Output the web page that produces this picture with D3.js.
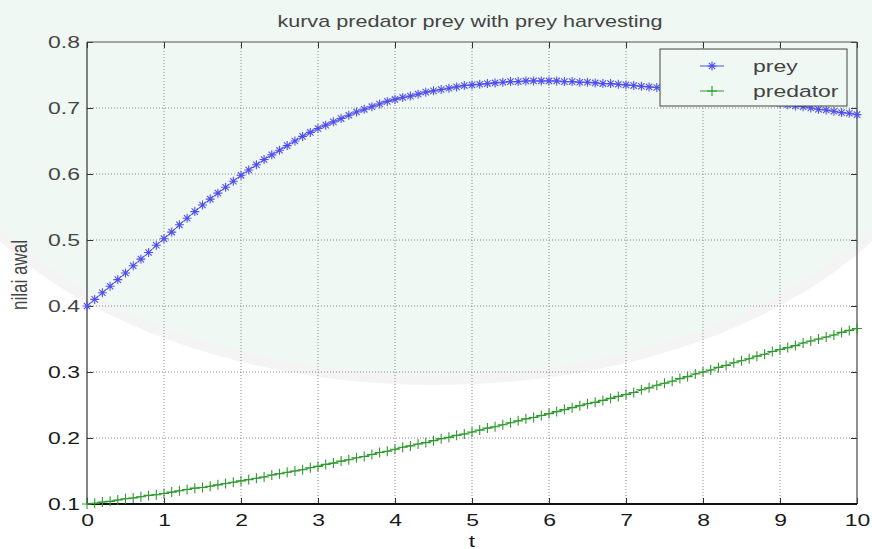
<!DOCTYPE html>
<html>
<head>
<meta charset="utf-8">
<script src="https://cdn.jsdelivr.net/npm/d3@7"></script>
<style>
  html, body { margin: 0; padding: 0; background: #ffffff; }
  svg { display: block; }
  text { font-family: "Liberation Sans", Arial, Helvetica, sans-serif; }
</style>
</head>
<body>
<svg id="chart" width="872" height="549"></svg>
<script>
// ---------- data ----------
const titleText = "kurva predator prey with prey harvesting";
const xLabel = "t";
const yLabel = "nilai awal";
const seriesNames = ["prey", "predator"];
const xTicks = [0, 1, 2, 3, 4, 5, 6, 7, 8, 9, 10];
const yTicks = [0.1, 0.2, 0.3, 0.4, 0.5, 0.6, 0.7, 0.8];
const tValues = [
  0.0,0.1,0.2,0.3,0.4,0.5,0.6,0.7,0.8,0.9,
  1.0,1.1,1.2,1.3,1.4,1.5,1.6,1.7,1.8,1.9,
  2.0,2.1,2.2,2.3,2.4,2.5,2.6,2.7,2.8,2.9,
  3.0,3.1,3.2,3.3,3.4,3.5,3.6,3.7,3.8,3.9,
  4.0,4.1,4.2,4.3,4.4,4.5,4.6,4.7,4.8,4.9,
  5.0,5.1,5.2,5.3,5.4,5.5,5.6,5.7,5.8,5.9,
  6.0,6.1,6.2,6.3,6.4,6.5,6.6,6.7,6.8,6.9,
  7.0,7.1,7.2,7.3,7.4,7.5,7.6,7.7,7.8,7.9,
  8.0,8.1,8.2,8.3,8.4,8.5,8.6,8.7,8.8,8.9,
  9.0,9.1,9.2,9.3,9.4,9.5,9.6,9.7,9.8,9.9,
  10.0
];
const preyValues = [
  0.400,0.410,0.420,0.430,0.440,0.450,0.461,0.471,0.481,0.492,
  0.502,0.512,0.523,0.533,0.543,0.553,0.562,0.571,0.580,0.589,
  0.598,0.606,0.614,0.622,0.629,0.636,0.643,0.650,0.657,0.663,
  0.669,0.674,0.679,0.684,0.689,0.694,0.698,0.702,0.706,0.710,
  0.713,0.716,0.718,0.721,0.724,0.726,0.728,0.730,0.732,0.734,
  0.735,0.736,0.737,0.738,0.739,0.740,0.740,0.741,0.741,0.741,
  0.741,0.741,0.740,0.740,0.739,0.739,0.738,0.737,0.737,0.736,
  0.735,0.734,0.733,0.732,0.731,0.730,0.729,0.728,0.727,0.726,
  0.725,0.723,0.722,0.720,0.719,0.717,0.715,0.713,0.711,0.709,
  0.707,0.705,0.703,0.702,0.700,0.698,0.697,0.695,0.693,0.692,
  0.690
];
const predatorValues = [
  0.100,0.101,0.103,0.104,0.106,0.108,0.109,0.111,0.113,0.114,
  0.116,0.118,0.120,0.122,0.124,0.125,0.127,0.129,0.131,0.133,
  0.135,0.137,0.139,0.141,0.144,0.146,0.148,0.150,0.152,0.155,
  0.157,0.160,0.162,0.165,0.167,0.170,0.172,0.175,0.178,0.180,
  0.183,0.186,0.188,0.191,0.193,0.196,0.199,0.201,0.204,0.206,
  0.209,0.212,0.215,0.217,0.220,0.223,0.226,0.229,0.231,0.234,
  0.237,0.240,0.243,0.246,0.249,0.252,0.254,0.257,0.260,0.263,
  0.266,0.269,0.273,0.276,0.280,0.283,0.286,0.290,0.293,0.297,
  0.300,0.303,0.307,0.310,0.314,0.317,0.320,0.324,0.327,0.331,
  0.334,0.337,0.340,0.344,0.347,0.350,0.353,0.356,0.360,0.363,
  0.366
];

// ---------- layout ----------
const W = 872, H = 549;
const M = { left: 87, right: 15, top: 42, bottom: 45 };
const SX = 1.35; // horizontal stretch of text in the reference
const preyColor = "#4f4ff0";
const predColor = "#2e9a2e";

const svg = d3.select("#chart");

// faint background watermark tint
svg.append("ellipse")
  .attr("cx", 436).attr("cy", 60).attr("rx", 520).attr("ry", 320)
  .attr("fill", "#f0f8f3");
svg.append("ellipse")
  .attr("cx", 436).attr("cy", 60).attr("rx", 520).attr("ry", 320)
  .attr("fill", "none").attr("stroke", "#f4f4f4").attr("stroke-width", 10);

const x = d3.scaleLinear().domain([0, 10]).range([M.left, W - M.right]);
const y = d3.scaleLinear().domain([0.1, 0.8]).range([H - M.bottom - 0, M.top]);

const x0 = x.range()[0], x1 = x.range()[1];
const y0 = y.range()[0], y1 = y.range()[1];

// grid
const grid = svg.append("g").attr("stroke", "#8a8a8a").attr("stroke-width", 1)
  .attr("stroke-dasharray", "1,2").attr("fill", "none");
xTicks.slice(1, -1).forEach(v => {
  grid.append("line").attr("x1", x(v)).attr("x2", x(v)).attr("y1", y1).attr("y2", y0);
});
yTicks.slice(1, -1).forEach(v => {
  grid.append("line").attr("x1", x0).attr("x2", x1).attr("y1", y(v)).attr("y2", y(v));
});

// axes with inward ticks
function styleAxis(g) {
  g.select(".domain").remove();
  g.selectAll(".tick line").attr("stroke", "#333");
}
const tickLen = 6;
svg.append("g").attr("transform", `translate(0,${y0})`)
  .call(d3.axisTop(x).tickValues(xTicks).tickSize(tickLen).tickFormat(""))
  .call(styleAxis);
svg.append("g").attr("transform", `translate(0,${y1})`)
  .call(d3.axisBottom(x).tickValues(xTicks).tickSize(tickLen).tickFormat(""))
  .call(styleAxis);
svg.append("g").attr("transform", `translate(${x0},0)`)
  .call(d3.axisRight(y).tickValues(yTicks).tickSize(tickLen).tickFormat(""))
  .call(styleAxis);
svg.append("g").attr("transform", `translate(${x1},0)`)
  .call(d3.axisLeft(y).tickValues(yTicks).tickSize(tickLen).tickFormat(""))
  .call(styleAxis);

// tick labels via axes
const xLab = svg.append("g").attr("transform", `translate(0,${y0})`)
  .call(d3.axisBottom(x).tickValues(xTicks).tickSize(0).tickFormat(d3.format("d")));
xLab.select(".domain").remove();
xLab.selectAll("text")
  .attr("y", null).attr("dy", null)
  .attr("transform", `translate(0,22) scale(${SX},1)`)
  .attr("font-size", 17).attr("fill", "#1a1a1a")
  .attr("font-family", "'Liberation Sans', Arial, sans-serif");

const yLab = svg.append("g").attr("transform", `translate(${x0},0)`)
  .call(d3.axisLeft(y).tickValues(yTicks).tickSize(0).tickFormat(d3.format(".1f")));
yLab.select(".domain").remove();
yLab.selectAll("text")
  .attr("x", null).attr("dy", "0.35em")
  .attr("transform", `translate(-7,0) scale(${SX},1)`)
  .attr("font-size", 17)
  .attr("fill", d => d >= 0.35 ? "#454545" : "#1a1a1a")
  .attr("font-family", "'Liberation Sans', Arial, sans-serif");

// box
svg.append("line").attr("x1", x0).attr("x2", x1).attr("y1", y1).attr("y2", y1).attr("stroke", "#555").attr("stroke-width", 1);
svg.append("line").attr("x1", x1).attr("x2", x1).attr("y1", y1).attr("y2", y0).attr("stroke", "#444").attr("stroke-width", 1.2);
svg.append("line").attr("x1", x0).attr("x2", x0).attr("y1", y1).attr("y2", y0).attr("stroke", "#333").attr("stroke-width", 1.2);
svg.append("line").attr("x1", x0).attr("x2", x1).attr("y1", y0).attr("y2", y0).attr("stroke", "#111").attr("stroke-width", 2);

// series
const preyData = tValues.map((t, i) => ({ t, v: preyValues[i] }));
const predData = tValues.map((t, i) => ({ t, v: predatorValues[i] }));
const line = d3.line().x(d => x(d.t)).y(d => y(d.v));

const starPath = (s) => {
  const d = s * 0.707;
  return `M${-s},0L${s},0M0,${-s}L0,${s}M${-d},${-d}L${d},${d}M${-d},${d}L${d},${-d}`;
};
const plusPath = (s) => `M${-s},0L${s},0M0,${-s}L0,${s}`;

function drawSeries(data, color, pathStr) {
  const g = svg.append("g");
  g.append("path").datum(data).attr("d", line)
    .attr("fill", "none").attr("stroke", color).attr("stroke-width", 1);
  g.selectAll("path.m").data(data).join("path").attr("class", "m")
    .attr("transform", d => `translate(${x(d.t)},${y(d.v)})`)
    .attr("d", pathStr)
    .attr("fill", "none").attr("stroke", color).attr("stroke-width", 1.1);
}
drawSeries(preyData, preyColor, starPath(4.5));
drawSeries(predData, predColor, plusPath(5));

// title
svg.append("text")
  .attr("transform", `translate(${(x0 + x1) / 2 - 2},27) scale(${SX},1)`)
  .attr("text-anchor", "middle").attr("font-size", 16).attr("fill", "#444")
  .text(titleText);

// x label
svg.append("text")
  .attr("transform", `translate(${x(5)},547) scale(${SX},1)`)
  .attr("text-anchor", "middle").attr("font-size", 17).attr("fill", "#1a1a1a")
  .text(xLabel);

// y label
svg.append("text")
  .attr("transform", `translate(27,275) scale(${SX},1) rotate(-90)`)
  .attr("text-anchor", "middle").attr("font-size", 17).attr("fill", "#454545")
  .text(yLabel);

// legend
const lg = svg.append("g");
lg.append("rect").attr("x", 660).attr("y", 49).attr("width", 187).attr("height", 57)
  .attr("fill", "#f0f8f3").attr("stroke", "#444").attr("stroke-width", 1);
const legendItems = [
  { name: seriesNames[0], color: preyColor, path: starPath(4.5), yy: 66 },
  { name: seriesNames[1], color: predColor, path: plusPath(5), yy: 91 }
];
legendItems.forEach(it => {
  lg.append("line").attr("x1", 700).attr("x2", 724).attr("y1", it.yy).attr("y2", it.yy)
    .attr("stroke", it.color).attr("stroke-width", 1);
  lg.append("path").attr("transform", `translate(712,${it.yy})`).attr("d", it.path)
    .attr("fill", "none").attr("stroke", it.color).attr("stroke-width", 1.1);
  lg.append("text").attr("transform", `translate(753,${it.yy + 6}) scale(${SX},1)`)
    .attr("font-size", 17).attr("fill", "#444").text(it.name);
});
</script>
</body>
</html>
